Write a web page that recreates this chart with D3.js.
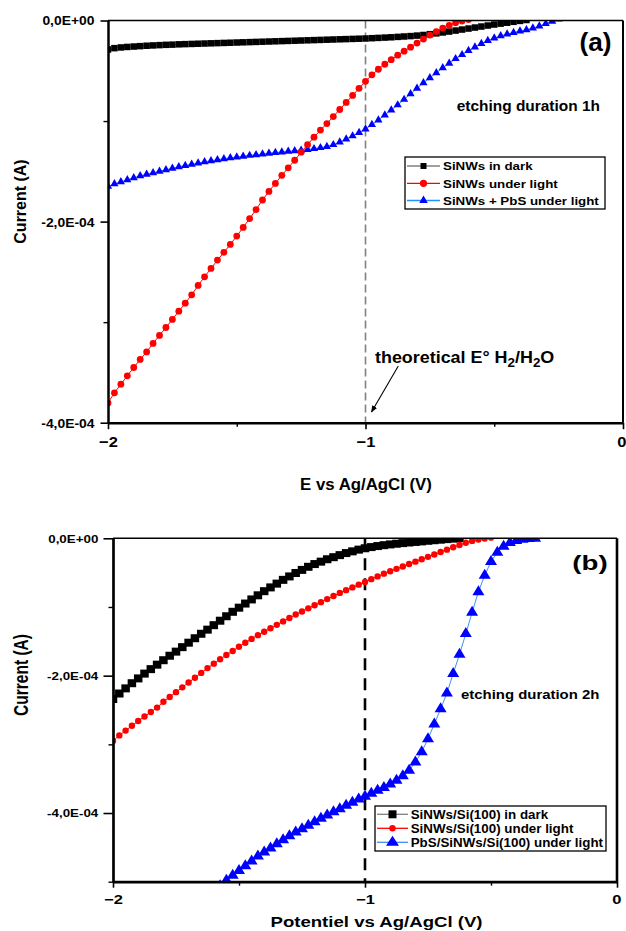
<!DOCTYPE html>
<html>
<head>
<meta charset="utf-8">
<script src="https://cdn.jsdelivr.net/npm/d3@7"></script>
<style>
    body { margin: 0; background: #fff; }
    svg { display: block; font-family: "Liberation Sans", Arial, sans-serif; }
</style>
</head>
<body>
<svg id="chart" width="626" height="931"></svg>
<script>
// Sweep grid (V vs Ag/AgCl), shared by every curve
const potentials = [
    -2.000, -1.975, -1.950, -1.925, -1.900, -1.875, -1.850, -1.825, -1.800, -1.775,
    -1.750, -1.725, -1.700, -1.675, -1.650, -1.625, -1.600, -1.575, -1.550, -1.525,
    -1.500, -1.475, -1.450, -1.425, -1.400, -1.375, -1.350, -1.325, -1.300, -1.275,
    -1.250, -1.225, -1.200, -1.175, -1.150, -1.125, -1.100, -1.075, -1.050, -1.025,
    -1.000, -0.975, -0.950, -0.925, -0.900, -0.875, -0.850, -0.825, -0.800, -0.775,
    -0.750, -0.725, -0.700, -0.675, -0.650, -0.625, -0.600, -0.575, -0.550, -0.525,
    -0.500, -0.475, -0.450, -0.425, -0.400, -0.375, -0.350, -0.325, -0.300, -0.275,
    -0.250
];

// Currents in µA, panel (a) - etching 1h
const darkA = [
    -28.8, -27.5, -26.8, -26.3, -25.9, -25.5, -25.1, -24.8, -24.5, -24.2,
    -24.0, -23.7, -23.5, -23.3, -23.1, -22.9, -22.7, -22.5, -22.3, -22.1,
    -21.9, -21.7, -21.5, -21.3, -21.1, -20.9, -20.7, -20.5, -20.3, -20.1,
    -19.9, -19.7, -19.5, -19.3, -19.1, -18.9, -18.7, -18.5, -18.3, -18.1,
    -17.9, -17.6, -17.3, -17.0, -16.7, -16.3, -15.9, -15.5, -15.0, -14.4,
    -13.6, -12.8, -11.9, -11.0, -10.0, -9.0, -8.0, -7.0, -6.0, -5.0,
    -4.0, -3.1, -2.2, -1.3, -0.4, 0.5
];
const lightA = [
    -380.3, -370.3, -361.7, -353.4, -345.1, -337.1, -329.6, -321.2, -313.2, -305.3,
    -297.3, -289.1, -281.1, -272.8, -263.5, -254.9, -246.6, -238.3, -230.6, -222.7,
    -214.4, -205.8, -197.0, -188.0, -178.5, -170.0, -162.0, -154.0, -146.5, -139.0,
    -131.0, -123.5, -116.0, -109.0, -102.5, -95.5, -88.5, -81.5, -74.5, -67.5,
    -60.5, -54.0, -48.5, -43.5, -39.0, -34.5, -30.5, -26.5, -22.5, -18.5,
    -14.5, -11.0, -7.5, -4.8, -2.3, -0.5, 1.0
];
const pbsA = [
    -165, -162.5, -160.5, -158.5, -156.5, -154.5, -153, -151.5, -150, -148.5,
    -147, -145.5, -144.2, -143, -141.8, -140.6, -139.5, -138.5, -137.5, -136.6,
    -135.8, -135, -134.2, -133.5, -132.8, -132, -131.4, -130.8, -130.2, -129.6,
    -129, -128.3, -127.5, -126.5, -125.3, -123.5, -121, -118, -114.8, -111.5,
    -108, -103.5, -99, -94, -89, -84, -78.5, -73, -67.5, -62,
    -57, -52, -47, -42.5, -38, -34, -30, -26.5, -23, -20,
    -17.5, -15.3, -13.5, -12, -10.6, -9.2, -7.6, -5.6, -3.2, -0.8,
    1.5
];

// Currents in µA, panel (b) - etching 2h
const darkB = [
    -234, -226, -218.5, -211, -204, -197, -190.5, -184, -177.5, -171,
    -165, -158.5, -152, -145.5, -139, -133, -126.5, -120, -113.5, -107,
    -101, -95, -89, -83, -77, -71.5, -66, -60.5, -55.5, -50.5,
    -46, -41.5, -37.5, -34, -30.5, -27.5, -24.5, -21.5, -19, -16.5,
    -14.5, -12.8, -11.3, -10, -8.9, -7.9, -7, -6.1, -5.3, -4.5,
    -3.6, -2.8, -2, -1.2, -0.5, 0.3
];
const lightB = [
    -295, -287, -280, -273, -266, -259.5, -253, -246.5, -238, -231,
    -224, -217, -210, -203, -196, -189, -182.5, -176, -170, -164,
    -158, -152, -146.5, -141, -136, -131, -126, -121, -116, -111,
    -106.5, -102, -97.5, -93, -88.5, -84, -79.5, -75.5, -71.5, -67.5,
    -63.5, -59.5, -55.5, -51.5, -48, -44.5, -41, -37.5, -34, -30.5,
    -27, -23.5, -20, -16.5, -13, -9.7, -6.5, -3.8, -1.8, -0.4,
    1
];
const pbsBStart = 17; // first grid index where this curve enters the frame
const pbsB = [
    -506, -498, -491, -484, -477, -470, -463, -457, -451, -445,
    -439, -433.5, -428, -423, -418, -413, -408, -403, -398.5, -394,
    -389, -384.5, -380, -376, -371.5, -367, -363, -358, -352.5, -346,
    -338, -326, -311, -292, -270.5, -248.5, -225.5, -197, -169, -139,
    -108, -78, -54, -34, -20.5, -12, -6.5, -3.5, -1.6, -0.6,
    0
];

const xTicks = [-2, -1, 0];
const xMinorTicks = [-1.5, -0.5];
const yTicks = [0, -200, -400];
const yMinorA = [-100, -300];
const yMinorB = [-100, -300, -500];

const legendA = ["SiNWs in dark", "SiNWs under light", "SiNWs + PbS under light"];
const legendB = ["SiNWs/Si(100) in dark", "SiNWs/Si(100) under light", "PbS/SiNWs/Si(100) under light"];

const svg = d3.select("#chart");
svg.append("rect").attr("width", 626).attr("height", 931).attr("fill", "#fff");

svg.append("defs").append("marker")
    .attr("id", "arrow")
    .attr("viewBox", "0 -5 10 10")
    .attr("refX", 9).attr("refY", 0)
    .attr("markerWidth", 7).attr("markerHeight", 7)
    .attr("markerUnits", "userSpaceOnUse")
    .attr("orient", "auto")
    .append("path").attr("d", "M0,-4L10,0L0,4Z").attr("fill", "#000");

// "-2,0E-04" style labels from µA values
function sciLabel(v) {
    if (v === 0) return "0,0E+00";
    const a = v * 1e-6;
    const e = Math.floor(Math.log10(Math.abs(a)));
    const m = a / Math.pow(10, e);
    return m.toFixed(1).replace(".", ",") + "E" + (e < 0 ? "-" : "+") + String(Math.abs(e)).padStart(2, "0");
}

function boldText(g, x, y, str, size, sx, anchor) {
    return g.append("text")
        .attr("transform", `translate(${x},${y}) scale(${sx},1)`)
        .attr("text-anchor", anchor || "start")
        .attr("font-size", size)
        .attr("font-weight", "bold")
        .attr("fill", "#000")
        .text(str);
}

function drawMarker(g, shape, cx, cy, s) {
    if (shape === "square") {
        g.append("rect").attr("x", cx - s.w / 2).attr("y", cy - s.h / 2)
            .attr("width", s.w).attr("height", s.h).attr("fill", s.fill);
    } else if (shape === "circle") {
        g.append("circle").attr("cx", cx).attr("cy", cy).attr("r", s.r).attr("fill", s.fill);
    } else {
        g.append("path")
            .attr("d", `M${cx},${cy - s.h * 2 / 3}L${cx + s.w / 2},${cy + s.h / 3}L${cx - s.w / 2},${cy + s.h / 3}Z`)
            .attr("fill", s.fill);
    }
}

function drawPanel(p) {
    const x = d3.scaleLinear().domain([-2, 0]).range([p.left, p.right]);
    const y = d3.scaleLinear().domain([p.yMin, 0]).range([p.bottom, p.top]);
    const g = svg.append("g");

    g.append("clipPath").attr("id", p.id + "-clip")
        .append("rect")
        .attr("x", p.left).attr("y", p.top)
        .attr("width", p.right - p.left).attr("height", p.bottom - p.top);

    // reference potential line at -1 V
    g.append("line")
        .attr("x1", x(-1)).attr("x2", x(-1))
        .attr("y1", p.top).attr("y2", p.bottom)
        .attr("stroke", p.dash.color)
        .attr("stroke-width", p.dash.width)
        .attr("stroke-dasharray", p.dash.pattern);

    const plot = g.append("g").attr("clip-path", `url(#${p.id}-clip)`);
    const line = d3.line().x(d => x(d.v)).y(d => y(d.i));

    p.series.forEach(s => {
        const pts = s.values.map((val, k) => ({ v: potentials[s.start + k], i: val }));
        plot.append("path").datum(pts)
            .attr("d", line)
            .attr("fill", "none")
            .attr("stroke", s.line)
            .attr("stroke-width", 1);
        const mg = plot.append("g");
        pts.forEach(d => drawMarker(mg, s.shape, x(d.v), y(d.i), s.size));
    });

    // frame top / right
    g.append("line").attr("x1", p.left).attr("x2", p.right).attr("y1", p.top).attr("y2", p.top)
        .attr("stroke", "#000").attr("stroke-width", p.frameTop);
    g.append("line").attr("x1", p.right).attr("x2", p.right).attr("y1", p.top).attr("y2", p.bottom)
        .attr("stroke", "#000").attr("stroke-width", p.frameRight);

    // y axis
    const gy = g.append("g")
        .attr("transform", `translate(${p.left},0)`)
        .call(d3.axisLeft(y).tickValues(yTicks).tickSize(p.yTickLen).tickSizeOuter(0).tickFormat(sciLabel));
    gy.attr("font-family", null).attr("font-size", null);
    gy.select(".domain").attr("stroke-width", p.axisW);
    gy.selectAll(".tick line").attr("stroke-width", 1.6);
    gy.selectAll(".tick text")
        .attr("font-size", p.yFont).attr("font-weight", "bold")
        .attr("x", -p.yLabelGap / p.ySx)
        .attr("dy", "0.36em")
        .attr("transform", `scale(${p.ySx},1)`);

    const gyMinor = g.append("g")
        .attr("transform", `translate(${p.left},0)`)
        .call(d3.axisLeft(y).tickValues(p.yMinor).tickSize(4.5).tickFormat(""));
    gyMinor.select(".domain").remove();
    gyMinor.selectAll(".tick line").attr("stroke-width", 1.4);

    // x axis
    const gx = g.append("g")
        .attr("transform", `translate(0,${p.bottom})`)
        .call(d3.axisBottom(x).tickValues(xTicks).tickSize(p.xTickLen).tickSizeOuter(0).tickFormat(d3.format("d")));
    gx.attr("font-family", null).attr("font-size", null);
    gx.select(".domain").attr("stroke-width", p.axisW);
    gx.selectAll(".tick line").attr("stroke-width", 1.6);
    gx.selectAll(".tick text")
        .attr("font-size", p.xFont).attr("font-weight", "bold")
        .attr("y", p.xLabelTop)
        .attr("transform", `scale(${p.xSx},1)`);
    // keep the last label ("0") inside the page
    gx.selectAll(".tick text").filter(d => d === 0)
        .attr("text-anchor", "end")
        .attr("x", p.zeroShift / p.xSx);

    const gxMinor = g.append("g")
        .attr("transform", `translate(0,${p.bottom})`)
        .call(d3.axisBottom(x).tickValues(xMinorTicks).tickSize(4).tickFormat(""));
    gxMinor.select(".domain").remove();
    gxMinor.selectAll(".tick line").attr("stroke-width", 1.4);

    // titles
    g.append("text")
        .attr("transform", `translate(${p.yTitle.x},${p.yTitle.y}) rotate(-90) scale(1,${p.yTitle.sy})`)
        .attr("text-anchor", "middle")
        .attr("font-size", p.yTitle.size).attr("font-weight", "bold")
        .text("Current (A)");
    boldText(g, p.xTitle.x, p.xTitle.y, p.xTitle.text, p.xTitle.size, p.xTitle.sx, "middle");
    boldText(g, p.tag.x, p.tag.y, p.tag.text, p.tag.size, p.tag.sx, "middle");
    boldText(g, p.note.x, p.note.y, p.note.text, p.note.size, p.note.sx, "start");

    // legend
    const L = p.legend;
    g.append("rect").attr("x", L.x).attr("y", L.y).attr("width", L.w).attr("height", L.h)
        .attr("fill", "#fff").attr("stroke", "#000").attr("stroke-width", 1.3);
    p.legendOrder.forEach((s, k) => {
        const cy = L.rows[k];
        g.append("line").attr("x1", L.lineX1).attr("x2", L.lineX2).attr("y1", cy).attr("y2", cy)
            .attr("stroke", s.line).attr("stroke-width", 1.3);
        drawMarker(g, s.shape, (L.lineX1 + L.lineX2) / 2, cy, s.legendSize);
        boldText(g, L.textX, cy + L.baseline, L.labels[k], L.size, L.sx, "start");
    });

    return { g, x, y };
}

// Panel (a)
const seriesA = {
    dark: { values: darkA, start: 0, shape: "square", line: "#808080",
            size: { w: 6.5, h: 6.5, fill: "#000" }, legendSize: { w: 6, h: 6, fill: "#000" } },
    light: { values: lightA, start: 0, shape: "circle", line: "#ff0000",
             size: { r: 3.4, fill: "#ff0000" }, legendSize: { r: 3.6, fill: "#ff0000" } },
    pbs: { values: pbsA, start: 0, shape: "triangle", line: "#1e90ff",
           size: { w: 8.2, h: 7.2, fill: "#0000ff" }, legendSize: { w: 8.5, h: 7.5, fill: "#0000ff" } }
};
const panelA = drawPanel({
    id: "pa",
    left: 108, right: 623, top: 20.5, bottom: 422.7, yMin: -400,
    yMinor: yMinorA,
    axisW: 2.5, frameTop: 1.5, frameRight: 2,
    yTickLen: 7.5, yLabelGap: 13.5, yFont: 12.4, ySx: 1.12,
    xTickLen: 6.5, xLabelTop: 14, xFont: 15, xSx: 1.1, zeroShift: 3,
    dash: { color: "#808080", width: 1.6, pattern: "8,4" },
    yTitle: { x: 26, y: 201.5, size: 16, sy: 1.05 },
    xTitle: { x: 366, y: 490, text: "E vs Ag/AgCl (V)", size: 16, sx: 1.05 },
    tag: { x: 595.5, y: 51, text: "(a)", size: 25, sx: 1.05 },
    note: { x: 456.7, y: 111, text: "etching duration 1h", size: 15, sx: 1.03 },
    legend: {
        x: 405, y: 157, w: 200, h: 52, rows: [166, 183.3, 200.5],
        lineX1: 407, lineX2: 440, textX: 443, baseline: 4.2, size: 11.8, sx: 1.13, labels: legendA
    },
    series: [seriesA.dark, seriesA.pbs, seriesA.light],
    legendOrder: [seriesA.dark, seriesA.light, seriesA.pbs]
});

// annotation for theoretical potential
const ann = panelA.g.append("text")
    .attr("transform", "translate(375,363) scale(1.12,1)")
    .attr("font-size", 16).attr("font-weight", "bold");
ann.append("tspan").text("theoretical E° H");
ann.append("tspan").attr("dy", 4).attr("font-size", 12).text("2");
ann.append("tspan").attr("dy", -4).text("/H");
ann.append("tspan").attr("dy", 4).attr("font-size", 12).text("2");
ann.append("tspan").attr("dy", -4).text("O");
panelA.g.append("line")
    .attr("x1", 398.3).attr("y1", 366).attr("x2", 371.5).attr("y2", 412)
    .attr("stroke", "#000").attr("stroke-width", 1.1)
    .attr("marker-end", "url(#arrow)");

// Panel (b)
const seriesB = {
    dark: { values: darkB, start: 0, shape: "square", line: "#808080",
            size: { w: 8.5, h: 8, fill: "#000" }, legendSize: { w: 8, h: 8, fill: "#000" } },
    light: { values: lightB, start: 0, shape: "circle", line: "#ff0000",
             size: { r: 3.2, fill: "#ff0000" }, legendSize: { r: 3.2, fill: "#ff0000" } },
    pbs: { values: pbsB, start: pbsBStart, shape: "triangle", line: "#3f8ff5",
           size: { w: 12, h: 10, fill: "#0000ff" }, legendSize: { w: 13, h: 10, fill: "#0000ff" } }
};
drawPanel({
    id: "pb",
    left: 113, right: 617, top: 538.3, bottom: 881.7, yMin: -500,
    yMinor: yMinorB,
    axisW: 2.7, frameTop: 1.6, frameRight: 2.6,
    yTickLen: 9.5, yLabelGap: 14.7, yFont: 10.6, ySx: 1.26,
    xTickLen: 6, xLabelTop: 13.3, xFont: 12.5, xSx: 1.32, zeroShift: 4,
    dash: { color: "#000", width: 2.6, pattern: "12,8" },
    yTitle: { x: 28, y: 675, size: 15.5, sy: 1.3 },
    xTitle: { x: 376.5, y: 927, text: "Potentiel vs Ag/AgCl (V)", size: 14.3, sx: 1.3 },
    tag: { x: 590, y: 570, text: "(b)", size: 21, sx: 1.32 },
    note: { x: 461, y: 699, text: "etching duration 2h", size: 13.7, sx: 1.09 },
    legend: {
        x: 375, y: 806, w: 231, h: 45, rows: [814.3, 828.3, 842.3],
        lineX1: 377, lineX2: 408, textX: 410.7, baseline: 4.3, size: 12.5, sx: 1.07, labels: legendB
    },
    series: [seriesB.dark, seriesB.light, seriesB.pbs],
    legendOrder: [seriesB.dark, seriesB.light, seriesB.pbs]
});
</script>
</body>
</html>
